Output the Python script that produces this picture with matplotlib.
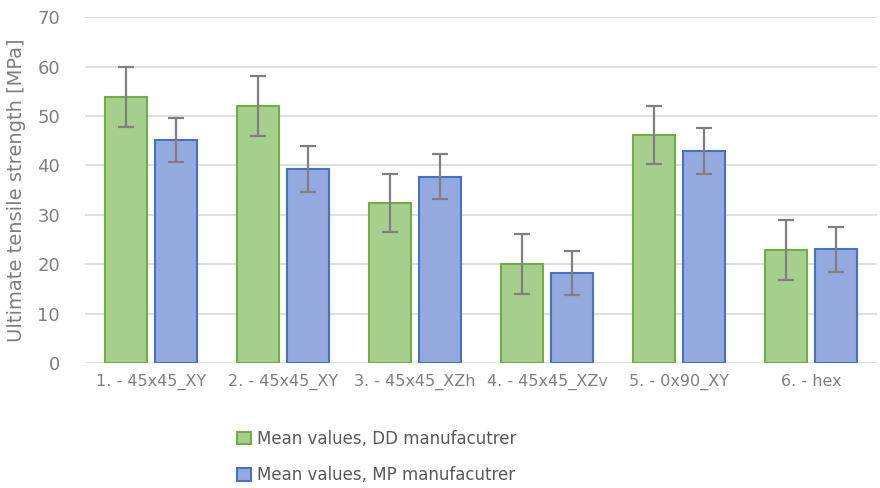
import numpy as np
import matplotlib
matplotlib.use("Agg")
import matplotlib.pyplot as plt

# values
categories = ["1. - 45x45_XY", "2. - 45x45_XY", "3. - 45x45_XZh",
              "4. - 45x45_XZv", "5. - 0x90_XY", "6. - hex"]
dd_mean = [53.8, 52.0, 32.4, 20.0, 46.1, 22.9]
dd_err = [6.0, 6.0, 5.9, 6.1, 5.9, 6.0]
mp_mean = [45.1, 39.3, 37.7, 18.2, 42.9, 23.0]
mp_err = [4.5, 4.6, 4.6, 4.5, 4.6, 4.5]
labels = ["Mean values, DD manufacutrer", "Mean values, MP manufacutrer"]

grey = "#808080"
fig = plt.figure(figsize=(8.8, 4.88), dpi=100)
ax = fig.add_axes([0.0966, 0.256, 0.9, 0.709])

x = np.arange(len(categories))
w = 0.32
b1 = ax.bar(x - w/2 - 0.03, dd_mean, w, color="#a6cf8e", edgecolor="#70ad47",
            linewidth=1.5, label=labels[0], zorder=3)
b2 = ax.bar(x + w/2 + 0.03, mp_mean, w, color="#94a9de", edgecolor="#4472c4",
            linewidth=1.5, label=labels[1], zorder=3)
ax.errorbar(x - w/2 - 0.03, dd_mean, yerr=dd_err, fmt="none", ecolor=grey,
            elinewidth=1.6, capsize=6, capthick=1.6, zorder=4)
ax.errorbar(x + w/2 + 0.03, mp_mean, yerr=mp_err, fmt="none", ecolor=grey,
            elinewidth=1.6, capsize=6, capthick=1.6, zorder=4)

ax.set_xlim(-0.5, 5.5)
ax.set_ylim(0, 70)
ax.set_yticks(range(0, 71, 10))
ax.set_xticks(x)
ax.set_xticklabels(categories)
ax.grid(axis="y", color="#d9d9d9", linewidth=1.2, zorder=0)
for s in ax.spines.values():
    s.set_visible(False)
ax.tick_params(length=0, colors="#7f7f7f", pad=8)
ax.tick_params(axis="x", labelsize=11.5)
ax.tick_params(axis="y", labelsize=13, pad=18)
ax.set_ylabel("Ultimate tensile strength [MPa]", color="#7f7f7f", fontsize=14,
              labelpad=8)

fig.legend(handles=[b1, b2], labels=labels, loc="upper left",
           bbox_to_anchor=(0.262, 0.133), frameon=False, fontsize=12,
           labelcolor="#595959", handlelength=0.8, handleheight=0.8,
           handletextpad=0.4, labelspacing=1.1, borderaxespad=0)
fig.savefig("out.png")
